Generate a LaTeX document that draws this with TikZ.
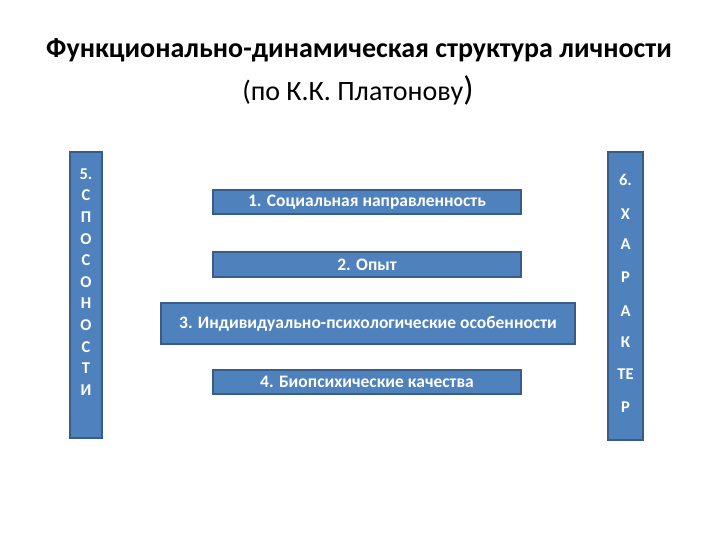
\documentclass[tikz,border=0pt]{standalone}
\usepackage{fontspec}
\setmainfont{Carlito}
\usepackage{tikz}
\usetikzlibrary{positioning}
\definecolor{boxblue}{HTML}{4F81BD}
\definecolor{edgeblue}{HTML}{385D8A}

\begin{document}
\begin{tikzpicture}[x=1pt, y=-1pt,
box/.style={draw=edgeblue, line width=1.2pt, fill=boxblue, text=white, inner sep=0pt,
font=\fontsize{17.5}{20}\selectfont\bfseries},
bar/.style={box, minimum width=32pt},
letter/.style={text=white, inner sep=0pt, font=\fontsize{16.5}{19}\selectfont\bfseries}]
\useasboundingbox (0,0) rectangle (720,540);
\node[font=\fontsize{28}{32}\selectfont\bfseries] (title) at (359,50) {Функционально-динамическая структура личности};
\node[font=\fontsize{28}{32}\selectfont] (sub) at (358,90) {(по К.К. Платонову\fontsize{34}{34}\selectfont)};
\node[box, minimum width=308pt, minimum height=24pt] (1) at (367,202) {1. Социальная направленность};
\node[box, minimum width=308pt, minimum height=25pt] (2) at (367,264.5) {2. Опыт};
\node[box, minimum width=414pt, minimum height=41pt] (3) at (368,323.5) {3. Индивидуально-психологические особенности};
\node[box, minimum width=308pt, minimum height=24pt] (4) at (367,382) {4. Биопсихические качества};
\node[bar, minimum height=286pt] (5) at (86,295) {};
\node[bar, minimum width=35pt, minimum height=288pt] (6) at (625.5,296) {};
\foreach \l [count=\i from 0] in {5., С, П, О, С, О, Н, О, С, Т, И}{
\node[letter] (a\i) at (86,174+21.6*\i) {\l};}
\foreach \l/\y [count=\i] in {6./180, Х/214, А/244, Р/277, А/311, К/342, ТЕ/374, Р/407}{
\node[letter] (b\i) at (625.5,\y) {\l};}
\end{tikzpicture}
\end{document}
